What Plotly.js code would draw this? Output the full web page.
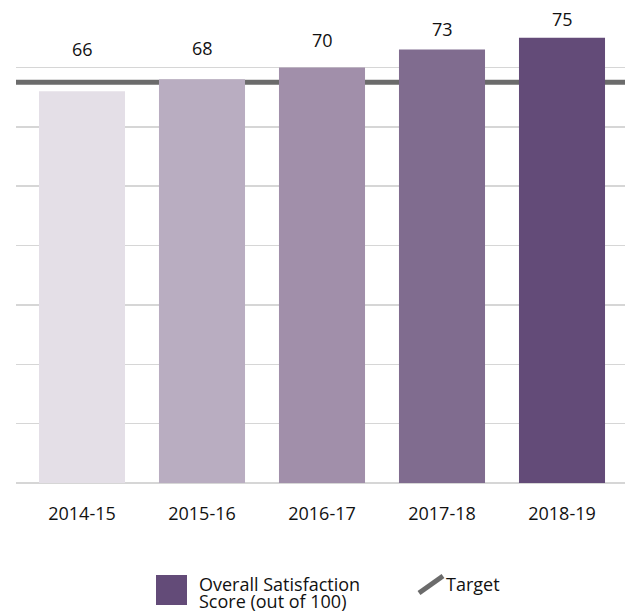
<!DOCTYPE html>
<html><head><meta charset="utf-8">
<script src="https://cdn.plot.ly/plotly-3.0.1.min.js"></script>
<style>html,body{margin:0;padding:0;background:#fff}#chart{width:627px;height:616px}</style>
</head><body><div id="chart"></div>
<script>
// ---- data ----
const categories = ['2014-15', '2015-16', '2016-17', '2017-18', '2018-19'];
const scores = [66, 68, 70, 73, 75];
const targetValue = 67.5;
const seriesName = 'Overall Satisfaction';
const seriesName2 = 'Score (out of 100)';
const targetName = 'Target';
const yTickValues = [0, 10, 20, 30, 40, 50, 60, 70, 80];

// ---- styles ----
const barColors = ['#e4dfe7', '#b9adc1', '#a18faa', '#806c8f', '#634b78'];
const labelLift = [42, 31, 27, 21, 19];
const FONT = '"Open Sans", "Noto Sans", sans-serif';
const W = 627, H = 616;
const M = {l: 16, r: 2, t: 8, b: 133};
const PW = W - M.l - M.r, PH = H - M.t - M.b;
const px = x => (x - M.l) / PW;
const py = y => (H - M.b - y) / PH;

const bars = {
  type: 'bar', x: categories, y: scores, name: seriesName,
  marker: {color: barColors}, hoverinfo: 'skip', showlegend: false
};

const annotations = categories.map((c, i) => ({
  x: c, y: scores[i], xref: 'x', yref: 'y', text: String(scores[i]),
  showarrow: false, yanchor: 'middle', yshift: labelLift[i],
  font: {family: FONT, size: 18, color: '#111'}
}));
annotations.push(
  {xref: 'paper', yref: 'paper', x: px(197), y: py(584), xanchor: 'left', yanchor: 'middle',
   text: seriesName, showarrow: false, font: {family: FONT, size: 18, color: '#111'}},
  {xref: 'paper', yref: 'paper', x: px(197), y: py(601), xanchor: 'left', yanchor: 'middle',
   text: seriesName2, showarrow: false, font: {family: FONT, size: 18, color: '#111'}},
  {xref: 'paper', yref: 'paper', x: px(444), y: py(584), xanchor: 'left', yanchor: 'middle',
   text: targetName, showarrow: false, font: {family: FONT, size: 18, color: '#111'}}
);

const shapes = [
  {type: 'line', xref: 'paper', yref: 'y', x0: 0, x1: 1, y0: targetValue, y1: targetValue,
   line: {color: '#6b6b6b', width: 5}, layer: 'between'},
  {type: 'rect', xref: 'paper', yref: 'paper', x0: px(156), x1: px(187), y0: py(605), y1: py(575),
   fillcolor: barColors[4], line: {width: 0}},
  {type: 'line', xref: 'paper', yref: 'paper', x0: px(419), y0: py(593), x1: px(443), y1: py(576),
   line: {color: '#6b6b6b', width: 5}}
];

const layout = {
  width: W, height: H, margin: M,
  paper_bgcolor: '#fff', plot_bgcolor: '#fff',
  showlegend: false, bargap: 0.283,
  font: {family: FONT, size: 18, color: '#111'},
  xaxis: {type: 'category', range: [-0.55, 4.525], showgrid: false, showline: false,
          ticks: '', ticklabelstandoff: 18, tickfont: {family: FONT, size: 18, color: '#111'},
          fixedrange: true},
  yaxis: {range: [0, 80], tickvals: yTickValues, showticklabels: false, showgrid: true,
          gridcolor: '#d6d6d6', gridwidth: 1.5, zeroline: true, zerolinecolor: '#d6d6d6',
          zerolinewidth: 1.5, showline: false, fixedrange: true},
  annotations: annotations, shapes: shapes
};

Plotly.newPlot('chart', [bars], layout, {displayModeBar: false, staticPlot: true});
</script>
</body></html>
